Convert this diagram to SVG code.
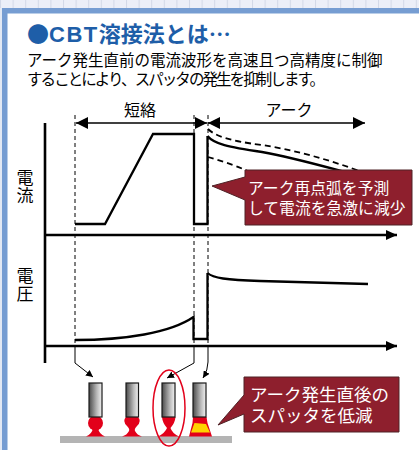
<svg xmlns="http://www.w3.org/2000/svg" width="419" height="450" viewBox="0 0 419 450">
  <defs>
    <style>
      .jp { font-family: "Noto Sans CJK JP", "Noto Sans CJK SC", sans-serif; }
      .title { fill: #1e5ea8; font-size: 22px; font-weight: bold; }
      .body { fill: #000; font-size: 15.5px; }
      .label { fill: #000; font-size: 16px; }
      .vlabel { fill: #000; font-size: 17px; writing-mode: vertical-rl; text-orientation: upright; letter-spacing: 1px; }
      .axis { fill: none; stroke: #000; stroke-width: 2.6; }
      .wave { fill: none; stroke: #000; stroke-width: 2.3; stroke-linejoin: miter; }
      .dash { fill: none; stroke: #000; stroke-width: 1; stroke-dasharray: 4 3; }
      .dashc { fill: none; stroke: #000; stroke-width: 1.8; stroke-dasharray: 6 4; }
      .thin { fill: none; stroke: #000; stroke-width: 1; }
      .span { fill: none; stroke: #000; stroke-width: 1.5; }
      .callout { fill: #8e1f2d; stroke: #4f2226; stroke-width: 1; }
      .ctext { fill: #fff; }
      .rod { fill: url(#rodGrad); stroke: #1a1a1a; stroke-width: 1.2; }
      .melt { fill: #e2001a; }
      .hot { fill: #ffd400; }
    </style>
    <linearGradient id="rodGrad" x1="0" y1="0" x2="1" y2="0">
      <stop offset="0" stop-color="#4a4a4a"/>
      <stop offset="0.6" stop-color="#b8b8b8"/>
      <stop offset="1" stop-color="#f2f2f2"/>
    </linearGradient>
    <marker id="axisHead" markerUnits="userSpaceOnUse" markerWidth="12" markerHeight="10" refX="11" refY="5" orient="auto">
      <path d="M0,0 L11,5 L0,10 Z" fill="#000"/>
    </marker>
    <marker id="spanHead" markerUnits="userSpaceOnUse" markerWidth="13" markerHeight="12" refX="12" refY="6" orient="auto-start-reverse">
      <path d="M0,0 L12,6 L0,12 Z" fill="#000"/>
    </marker>
    <marker id="smallHead" markerUnits="userSpaceOnUse" markerWidth="8" markerHeight="7" refX="7" refY="3.5" orient="auto">
      <path d="M0,0 L7,3.5 L0,7 Z" fill="#000"/>
    </marker>
    <pattern id="grid" x="0" y="0" width="12.6" height="9" patternUnits="userSpaceOnUse">
      <rect width="12.6" height="9" fill="#eceff8"/>
      <line x1="0.5" y1="0" x2="0.5" y2="9" stroke="#d3d9e8" stroke-width="1"/>
    </pattern>
  </defs>

  <!-- page frame -->
  <rect x="0" y="0" width="419" height="450" fill="#ffffff"/>
  <rect x="0" y="0" width="419" height="8.5" fill="url(#grid)"/>
  <rect x="0" y="8" width="2" height="442" fill="#e3e9f4"/>
  <rect x="2" y="8" width="417" height="5.5" fill="#769dd2"/>
  <rect x="2" y="8" width="5.5" height="442" fill="#769dd2"/>

  <!-- heading -->
  <g id="heading">
    <text x="27" y="42" class="jp title"><tspan>●</tspan><tspan font-family="Liberation Sans, sans-serif" letter-spacing="1.5">CBT</tspan><tspan>溶接法とは…</tspan></text>
    <text class="jp body"><tspan x="27" y="66">アーク発生直前の電流波形を高速且つ高精度に制御</tspan><tspan x="27" y="85" textLength="298" lengthAdjust="spacing">することにより、スパッタの発生を抑制します。</tspan></text>
  </g>

  <!-- axis labels -->
  <g id="label-current">
    <text x="25" y="169" class="jp vlabel">電流</text>
  </g>
  <g id="label-voltage">
    <text x="25" y="267" class="jp vlabel">電圧</text>
  </g>

  <!-- period labels -->
  <g id="period-short">
    <text x="140" y="116" class="jp label" text-anchor="middle">短絡</text>
    <line x1="76" y1="123" x2="207" y2="123" class="span" marker-start="url(#spanHead)" marker-end="url(#spanHead)"/>
  </g>
  <g id="period-arc">
    <text x="289" y="116" class="jp label" text-anchor="middle">アーク</text>
    <line x1="208" y1="123" x2="365" y2="123" class="span" marker-start="url(#spanHead)" marker-end="url(#spanHead)"/>
  </g>

  <!-- axes, guides and waveforms -->
  <g id="connectors">
    <line x1="45" y1="123" x2="45" y2="363" class="axis"/>
    <line x1="44" y1="235" x2="397" y2="235" class="axis" marker-end="url(#axisHead)"/>
    <line x1="44" y1="346" x2="397" y2="346" class="axis" marker-end="url(#axisHead)"/>

    <!-- timing guides -->
    <line x1="75" y1="115" x2="75" y2="346" class="dash"/>
    <line x1="194" y1="115" x2="194" y2="346" class="dash"/>
    <line x1="208" y1="115" x2="208" y2="346" class="dash"/>

    <!-- current waveform -->
    <path d="M75,224 L105,224 L153,134 L194,134 L194,224 L207.5,224 L207.5,136" class="wave"/>
    <path d="M207.5,136 C214,144 228,147 262,152 C290,157 315,164 345,172" class="wave"/>
    <path d="M208,129 C215,136 230,141 262,145 C295,150 330,160 365,173" class="dashc"/>
    <path d="M208,157 C218,160 232,164 250,172" class="dashc"/>

    <!-- voltage waveform -->
    <path d="M75,340 C125,340 170,333 193.5,317 L193.5,339 L207.5,339 L207.5,273" class="wave"/>
    <path d="M207.5,273 C213,278 226,280 260,281 L368,284" class="wave"/>

    <!-- pointers to droplet states -->
    <path d="M75,346 L75,363 L93,377" class="thin" marker-end="url(#smallHead)"/>
    <path d="M194,346 L194,363 L167,378" class="thin" marker-end="url(#smallHead)"/>
    <path d="M208,346 L208,362 Q208,370 203,378" class="thin" marker-end="url(#smallHead)"/>
  </g>

  <!-- reignition callout -->
  <g id="callout-reignition">
    <path d="M245,170 L412,170 L412,225 L245,225 L245,200 L212,186 L245,177 Z" class="callout"/>
    <text class="jp ctext" font-size="15.8"><tspan x="248" y="194">アーク再点弧を予測</tspan><tspan x="248" y="214">して電流を急激に減少</tspan></text>
  </g>

  <!-- base metal -->
  <rect id="base-metal" x="60" y="436" width="172" height="7" fill="#b4b4b4"/>

  <!-- droplet transfer states -->
  <g id="state-1">
    <path d="M86,436.5 Q92,434 93,428 L98,428 Q99,434 105,436.5 Z" class="melt"/>
    <circle cx="95.5" cy="423" r="7.5" class="melt"/>
    <rect x="89" y="383" width="13" height="34" class="rod"/>
  </g>
  <g id="state-2">
    <path d="M126,417 L138,417 Q142,421 137,426 Q134,429 135,431 Q137,435 142,436.5 L122,436.5 Q127,435 129,431 Q130,429 127,426 Q122,421 126,417 Z" class="melt"/>
    <rect x="126" y="383" width="12.5" height="34" class="rod"/>
  </g>
  <g id="state-3">
    <path d="M162,417 L175.5,417 Q175,423 170.5,428 Q172,433 179,436.5 L158,436.5 Q165,433 167,428 Q162.5,423 162,417 Z" class="melt"/>
    <rect x="162" y="383" width="13" height="34" class="rod"/>
    <ellipse cx="169" cy="408" rx="16" ry="38" fill="none" stroke="#e2001a" stroke-width="1.5"/>
  </g>
  <g id="state-4">
    <path d="M193,417 L206.5,417 L207.5,423 L212,436.5 L189,436.5 L192.5,423 Z" class="melt"/>
    <path d="M194.5,423 L206,424 L210,432.5 L191,432.5 Z" class="hot"/>
    <rect x="193" y="383" width="13" height="34" class="rod"/>
  </g>

  <!-- spatter callout -->
  <g id="callout-spatter">
    <path d="M244,377 L399,377 L399,432 L244,432 L244,414 L218,425 L244,395 Z" class="callout"/>
    <text class="jp ctext" font-size="17.5"><tspan x="250" y="401">アーク発生直後の</tspan><tspan x="250" y="422">スパッタを低減</tspan></text>
  </g>
</svg>
